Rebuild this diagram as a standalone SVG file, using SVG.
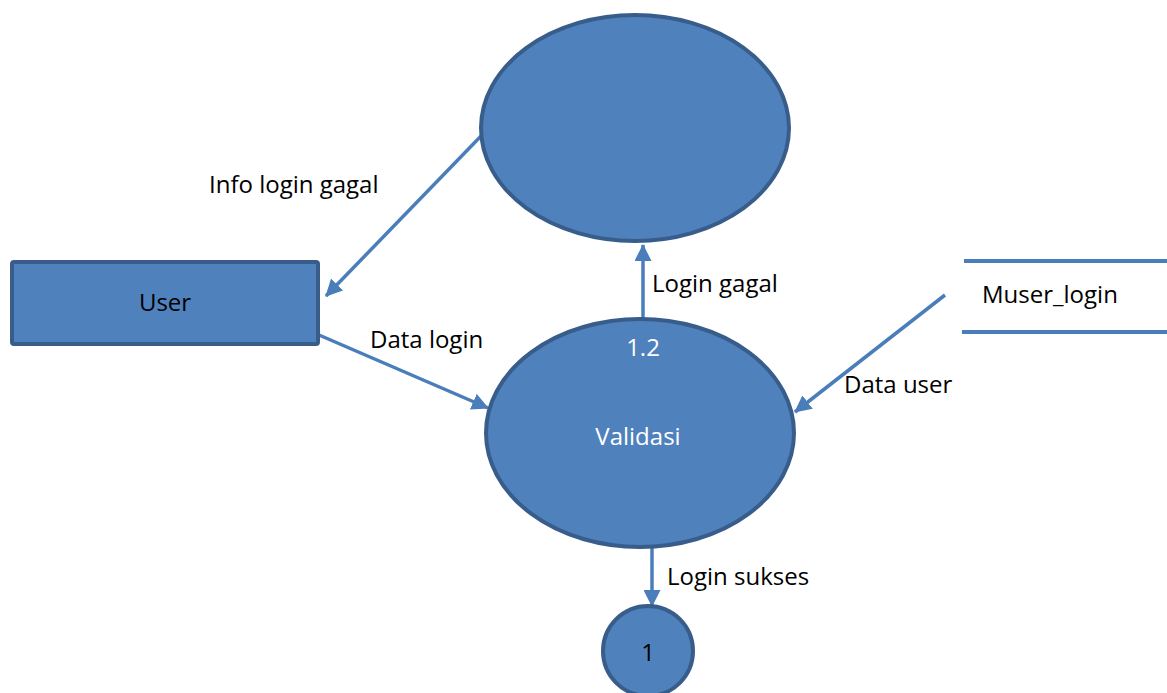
<svg xmlns="http://www.w3.org/2000/svg" width="1167" height="693" viewBox="0 0 1167 693">
  <style>
    .shape { fill: #4f81bd; stroke: #385d8a; stroke-width: 4; }
    .flow { fill: none; stroke: #4a7ebb; stroke-width: 3.5; marker-end: url(#arrow); }
    .store { stroke: #4a7ebb; stroke-width: 4; }
    text { font-family: "Open Sans", "Liberation Sans", sans-serif; font-size: 24px; fill: #000; }
    .light { fill: #fff; }
    .mid { text-anchor: middle; }
  </style>
  <defs>
    <marker id="arrow" markerWidth="17" markerHeight="17" refX="16" refY="8.5" orient="auto" markerUnits="userSpaceOnUse" viewBox="0 0 17 17">
      <path d="M0,0 L17,8.5 L0,17 z" fill="#4a7ebb"/>
    </marker>
  </defs>

  <g id="connectors">
    <line class="flow" x1="482" y1="135" x2="326" y2="296"/>
    <line class="flow" x1="319" y1="335" x2="488" y2="408"/>
    <line class="flow" x1="643" y1="319" x2="643" y2="245"/>
    <line class="flow" x1="945" y1="295" x2="795" y2="412"/>
    <line class="flow" x1="652" y1="548" x2="652" y2="606"/>
    <text x="209" y="193">Info login gagal</text>
    <text x="370" y="348">Data login</text>
    <text x="652" y="292">Login gagal</text>
    <text x="844" y="393">Data user</text>
    <text x="667" y="585">Login sukses</text>
  </g>

  <g id="process-top">
    <ellipse class="shape" cx="635" cy="128" rx="154" ry="113"/>
  </g>

  <g id="user">
    <rect class="shape" x="12" y="262" width="306" height="82" rx="2"/>
    <text class="mid" x="165" y="311">User</text>
  </g>

  <g id="validasi">
    <ellipse class="shape" cx="640" cy="433" rx="154" ry="114"/>
    <text class="light mid" x="643" y="356">1.2</text>
    <text class="light mid" x="638" y="445">Validasi</text>
  </g>

  <g id="muser-login">
    <line class="store" x1="964" y1="261" x2="1167" y2="261"/>
    <line class="store" x1="962" y1="332" x2="1167" y2="332"/>
    <text x="982" y="303">Muser_login</text>
  </g>

  <g id="connector-1">
    <circle class="shape" cx="648" cy="651" r="45"/>
    <text class="mid" x="648" y="661">1</text>
  </g>
</svg>
